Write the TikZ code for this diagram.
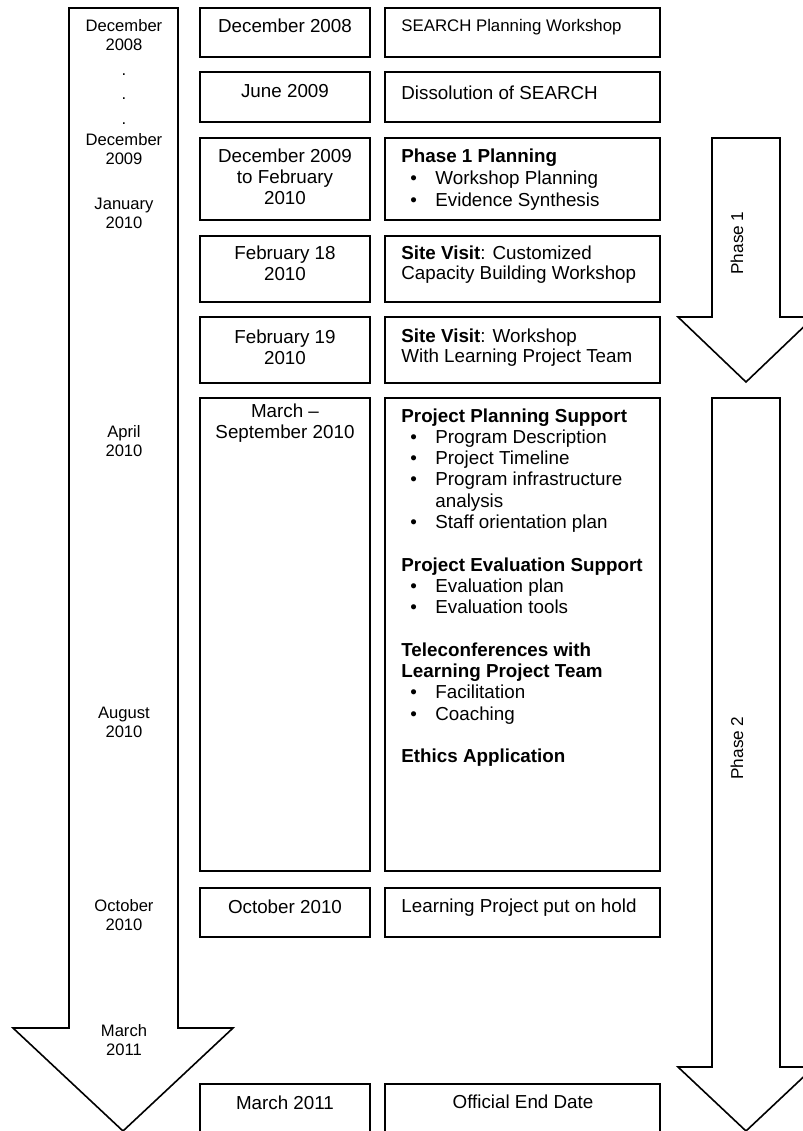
\documentclass[tikz,border=0pt]{standalone}
\usepackage{fontspec}
\setmainfont{Liberation Sans}
\newcommand{\bul}{\hspace*{4.5pt}\makebox[12.5pt][l]{\textbullet}}
\newcommand{\hng}{\hspace*{17pt}}

\begin{document}
\begin{tikzpicture}[x=0.5pt,y=-0.5pt,
	frame/.style={line width=0.8pt},
	datetxt/.style={anchor=north,inner sep=0pt,align=center,font=\fontsize{8.3}{9.5}\selectfont},
	midtxt/.style={anchor=north,inner sep=0pt,align=center,font=\fontsize{9.4}{10.5}\selectfont},
	evtxt/.style={anchor=north west,inner sep=0pt,align=left,font=\fontsize{9.4}{10.65}\selectfont},
	phasetxt/.style={rotate=90,inner sep=0pt,font=\fontsize{8.6}{10}\selectfont}]
		%%%%% START %%%%%
		\useasboundingbox (0,0) rectangle (803,1131);
		
		% big time arrow
		\draw[frame] (69,8) -- (178,8) -- (178,1028) -- (233,1028) -- (123,1131) -- (13,1028) -- (69,1028) -- cycle;
		
		\node[datetxt] (lDec08) at (124,19) {December\\2008};
		\node[datetxt, font=\fontsize{8.3}{12.3}\selectfont] (lDots) at (124,73) {.\\.\\.};
		\node[datetxt] (lDec09) at (124,133) {December\\2009};
		\node[datetxt] (lJan10) at (124,198) {January\\2010};
		\node[datetxt] (lApr10) at (124,425) {April\\2010};
		\node[datetxt] (lAug10) at (124,707) {August\\2010};
		\node[datetxt] (lOct10) at (124,899) {October\\2010};
		\node[datetxt] (lMar11) at (124,1024) {March\\2011};
		
		% phase arrows
		\draw[frame] (712,138) -- (780,138) -- (780,317) -- (814,317) -- (746,382) -- (678,317) -- (712,317) -- cycle;
		\draw[frame] (712,398) -- (780,398) -- (780,1067) -- (814,1067) -- (746,1131) -- (678,1067) -- (712,1067) -- cycle;
		\node[phasetxt] (ph1) at (737,243) {Phase 1};
		\node[phasetxt] (ph2) at (737,748) {Phase 2};
		
		% date boxes
		\draw[frame] (200,8) rectangle (370,57);
		\draw[frame] (200,72) rectangle (370,122);
		\draw[frame] (200,138) rectangle (370,220);
		\draw[frame] (200,236) rectangle (370,302);
		\draw[frame] (200,317) rectangle (370,383);
		\draw[frame] (200,398) rectangle (370,871);
		\draw[frame] (200,888) rectangle (370,937);
		\draw[frame] (200,1084) rectangle (370,1136);
		
		\node[midtxt] (mDec08) at (285,18) {December 2008};
		\node[midtxt] (mJun09) at (285,84) {June 2009};
		\node[midtxt] (mDecFeb) at (285,148) {December 2009\\to February\\2010};
		\node[midtxt] (mFeb18) at (285,245) {February 18\\2010};
		\node[midtxt] (mFeb19) at (285,329) {February 19\\2010};
		\node[midtxt] (mMarSep) at (285,403) {March --\\September 2010};
		\node[midtxt] (mOct10) at (285,899) {October 2010};
		\node[midtxt] (mMar11) at (285,1095) {March 2011};
		
		% event boxes
		\draw[frame] (385,8) rectangle (660,57);
		\draw[frame] (385,72) rectangle (660,122);
		\draw[frame] (385,138) rectangle (660,220);
		\draw[frame] (385,236) rectangle (660,302);
		\draw[frame] (385,317) rectangle (660,383);
		\draw[frame] (385,398) rectangle (660,871);
		\draw[frame] (385,888) rectangle (660,937);
		\draw[frame] (385,1084) rectangle (660,1136);
		
		\node[evtxt, font=\fontsize{8.4}{10}\selectfont] (eSearch) at (401,19) {SEARCH Planning Workshop};
		\node[evtxt] (eDissol) at (401,85) {Dissolution of SEARCH};
		\node[evtxt, font=\fontsize{9.4}{11}\selectfont] (ePh1) at (401,148) {\textbf{Phase 1 Planning}\\
			\bul Workshop Planning\\
			\bul Evidence Synthesis};
		\node[evtxt, font=\fontsize{9.4}{10}\selectfont] (eVisit1) at (401,245) {\textbf{Site Visit}: Customized\\Capacity Building Workshop};
		\node[evtxt, font=\fontsize{9.4}{10}\selectfont] (eVisit2) at (401,328) {\textbf{Site Visit}: Workshop\\With Learning Project Team};
		\node[evtxt] (eSupport) at (401,408) {\textbf{Project Planning Support}\\
			\bul Program Description\\
			\bul Project Timeline\\
			\bul Program infrastructure\\
			\hng analysis\\
			\bul Staff orientation plan\\[10.65pt]
			\textbf{Project Evaluation Support}\\
			\bul Evaluation plan\\
			\bul Evaluation tools\\[10.65pt]
			\textbf{Teleconferences with}\\
			\textbf{Learning Project Team}\\
			\bul Facilitation\\
			\bul Coaching\\[10.65pt]
			\textbf{Ethics Application}};
		\node[evtxt] (eHold) at (401,898) {Learning Project put on hold};
		\node[midtxt] (eEnd) at (523,1094) {Official End Date};
		
		%%%%% END %%%%%
\end{tikzpicture}
\end{document}
